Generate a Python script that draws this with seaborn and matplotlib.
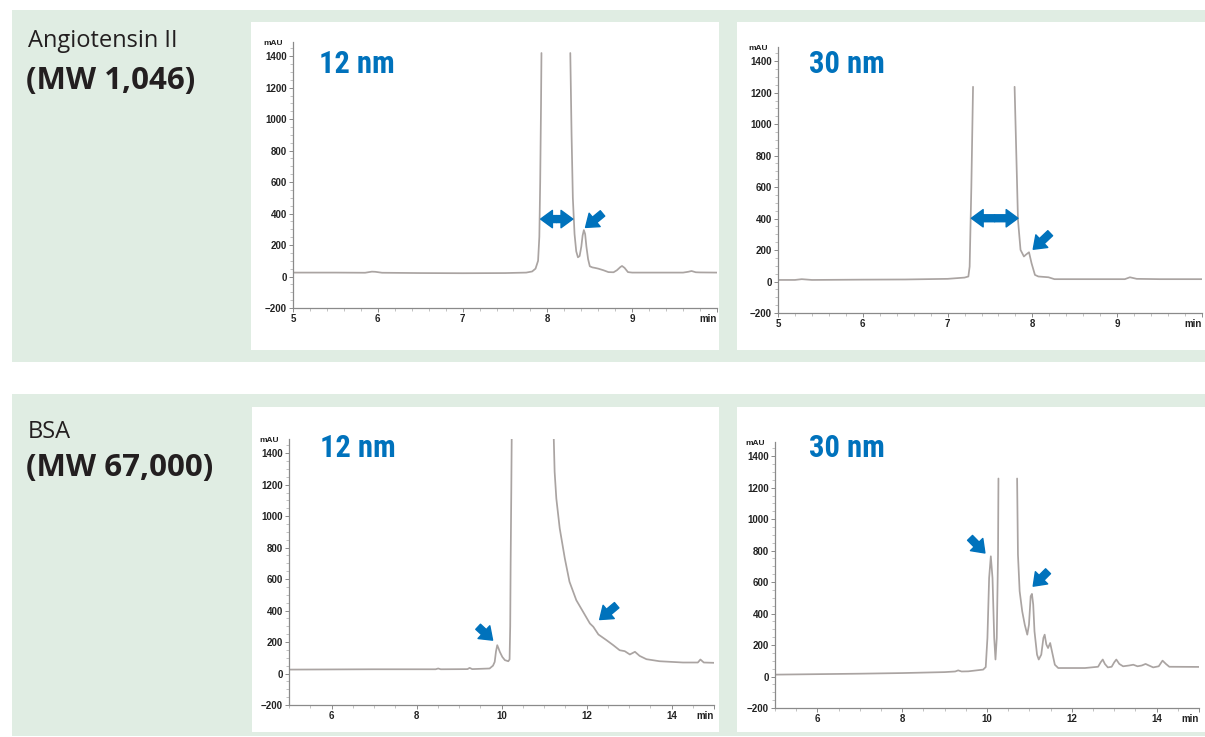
import numpy as np
import pandas as pd
import matplotlib
matplotlib.use("Agg")
import matplotlib.pyplot as plt
import seaborn as sns
from matplotlib.patches import Rectangle
from matplotlib.ticker import MultipleLocator

nan = np.nan

# chromatogram traces (time in min, signal in mAU)
# NaN marks where the peak top is cut off in the original
ang12_t = [5.0, 5.5, 5.85, 5.93, 5.97, 6.05, 6.5, 7.0, 7.5, 7.75, 7.82, 7.86, 7.89, 7.905, 7.915,
           7.925, 7.93, nan, 8.27, 8.285, 8.30, 8.32, 8.34, 8.36, 8.38, 8.40, 8.415, 8.43, 8.445,
           8.46, 8.48, 8.50, 8.53, 8.56, 8.60, 8.66, 8.72, 8.78, 8.82, 8.86, 8.88, 8.91, 8.95,
           9.0, 9.3, 9.6, 9.66, 9.70, 9.75, 9.8, 10.0]
ang12_v = [25, 25, 24, 31, 30, 24, 22, 21, 22, 25, 32, 50, 100, 253, 600,
           1100, 1420, nan, 1420, 900, 500, 270, 160, 122, 130, 190, 260, 295, 270,
           190, 110, 65, 58, 55, 50, 40, 28, 27, 40, 60, 67, 55, 28,
           25, 25, 25, 30, 35, 27, 26, 25]

ang30_t = [5.0, 5.2, 5.28, 5.4, 6.0, 6.5, 7.0, 7.2, 7.245, 7.26, 7.28, 7.30, nan,
           7.79, 7.81, 7.83, 7.86, 7.90, 7.92, 7.96, 7.99, 8.03, 8.07, 8.19, 8.26, 8.5,
           9.0, 9.09, 9.15, 9.23, 9.5, 10.0]
ang30_v = [10, 10, 15, 10, 12, 13, 17, 25, 32, 95, 600, 1237, nan,
           1237, 814, 391, 201, 159, 169, 186, 116, 42, 32, 27, 15, 15,
           15, 15, 27, 17, 15, 15]

bsa12_t = [5.0, 6.0, 7.0, 8.0, 8.45, 8.51, 8.57, 9.2, 9.25, 9.31, 9.72, 9.80, 9.84, 9.87, 9.90,
           9.93, 9.96, 10.02, 10.08, 10.16, 10.19, 10.205, 10.215, 10.23, 10.24, nan,
           11.23, 11.25, 11.29, 11.37, 11.49, 11.60, 11.76, 11.92, 12.08, 12.16, 12.28, 12.47,
           12.63, 12.78, 12.90, 13.02, 13.14, 13.25, 13.41, 13.72, 14.27, 14.62, 14.68, 14.76,
           15.0]
bsa12_v = [25, 26, 27, 27, 27, 32, 27, 28, 36, 28, 32, 50, 74, 140, 180,
           160, 138, 105, 85, 78, 90, 300, 700, 1150, 1490, nan,
           1490, 1282, 1112, 922, 731, 583, 466, 392, 318, 297, 248, 212,
           180, 148, 142, 121, 138, 112, 91, 78, 70, 70, 89, 70,
           68]

bsa30_t = [5.0, 6.0, 7.0, 8.0, 9.0, 9.25, 9.32, 9.40, 9.56, 9.91, 9.97, 10.01, 10.05, 10.09,
           10.13, 10.17, 10.20, 10.23, 10.26, 10.27, nan, 10.71, 10.73, 10.77, 10.83, 10.89,
           10.95, 10.99, 11.03, 11.06, 11.09, 11.12, 11.18, 11.22, 11.28, 11.33, 11.36, 11.40,
           11.44, 11.49, 11.54, 11.60, 11.68, 12.31, 12.62, 12.68, 12.73, 12.78, 12.85, 12.94,
           13.0, 13.05, 13.12, 13.21, 13.35, 13.45, 13.55, 13.65, 13.74, 13.82, 13.92, 14.05,
           14.14, 14.22, 14.30, 15.0]
bsa30_v = [12, 15, 18, 22, 28, 32, 39, 32, 33, 44, 60, 245, 626, 764,
           626, 245, 108, 245, 775, 1258, nan, 1258, 775, 542, 415, 330,
           266, 330, 510, 525, 457, 287, 139, 108, 139, 245, 266, 203,
           181, 213, 150, 75, 54, 54, 62, 90, 108, 80, 58, 62,
           90, 108, 80, 65, 70, 75, 65, 70, 80, 70, 58, 65,
           101, 80, 62, 61]

y_ticks = [-200, 0, 200, 400, 600, 800, 1000, 1200, 1400]
top_xticks = [5, 6, 7, 8, 9, 10]
top_xlabels = ["5", "6", "7", "8", "9", "min"]
bot_xticks = [6, 8, 10, 12, 14, 15]
bot_xlabels = ["6", "8", "10", "12", "14", "min"]

# arrows: (tail, head) in data units; double arrows: (x_left, x_right, y)
ang12_arrows = [((8.65, 401), (8.45, 312))]
ang12_double = (7.92, 8.30, 365)
ang30_arrows = [((8.21, 307), (8.01, 205))]
ang30_double = (7.28, 7.83, 402)
bsa12_arrows = [((9.45, 297), (9.79, 212)), ((12.71, 434), (12.31, 343))]
bsa30_arrows = [((9.60, 881), (9.95, 785)), ((11.44, 669), (11.09, 574))]

BLUE = "#0072bc"
GREEN = "#e0ede3"
LINE = "#aaa4a2"

sns.set_style("white")
plt.rcParams["font.family"] = ["Open Sans", "DejaVu Sans"]

W, H = 1205, 737
fig = plt.figure(figsize=(W / 100, H / 100), dpi=100)


def px_rect(x0, y0, x1, y1):
    return [x0 / W, 1 - y1 / H, (x1 - x0) / W, (y1 - y0) / H]


def px_pt(x, y):
    return x / W, 1 - y / H


# background panels
for x0, y0, x1, y1, c in [(12, 10, 1205, 362, GREEN), (251, 22, 719, 350, "white"),
                          (737, 22, 1205, 350, "white"), (12, 394, 1205, 736, GREEN),
                          (252, 407, 719, 732, "white"), (737, 407, 1205, 732, "white")]:
    r = px_rect(x0, y0, x1, y1)
    fig.patches.append(Rectangle((r[0], r[1]), r[2], r[3], transform=fig.transFigure,
                                 facecolor=c, edgecolor="none", zorder=-5))


def draw_trace(ax, t, v):
    df = pd.DataFrame({"t": t, "v": v})
    df["seg"] = df["v"].isna().cumsum()
    df = df.dropna()
    sns.lineplot(data=df, x="t", y="v", units="seg", estimator=None, sort=False,
                 color=LINE, lw=1.25, ax=ax, legend=False)


def arrow(ax, tail, head):
    ax.annotate("", xy=head, xytext=tail,
                arrowprops=dict(arrowstyle="simple,head_length=0.85,head_width=1.25,tail_width=0.5",
                                mutation_scale=10, color=BLUE, shrinkA=0, shrinkB=0))


def panel(rect, t, v, xlim, xticks, xlabels, minor, title, title_xy, arrows, double=None):
    ax = fig.add_axes(px_rect(*rect), zorder=2)
    ax.patch.set_visible(False)
    draw_trace(ax, t, v)
    ax.set_xlim(xlim)
    ax.set_ylim(-200, 1490)
    ax.set_yticks(y_ticks)
    ax.set_xticks(xticks, xlabels)
    ax.yaxis.set_minor_locator(MultipleLocator(50))
    ax.xaxis.set_minor_locator(MultipleLocator(minor))
    ax.set_xlabel("")
    ax.set_ylabel("")
    for s in ["top", "right"]:
        ax.spines[s].set_visible(False)
    for s in ["left", "bottom"]:
        ax.spines[s].set_color("#8a8a8a")
        ax.spines[s].set_linewidth(0.9)
    ax.tick_params(which="major", length=3, width=0.7, color="#8a8a8a", pad=1.5,
                   labelsize=7, labelcolor="#222222", left=True, bottom=True)
    ax.tick_params(which="minor", length=2, width=0.5, color="#aaaaaa", left=True, bottom=True)
    for lab in ax.get_xticklabels() + ax.get_yticklabels():
        lab.set_fontweight("bold")
        lab.set_family(["Liberation Sans", "DejaVu Sans"])
    # "min" unit label is right-aligned to the end of the time axis
    ax.get_xticklabels()[-1].set_horizontalalignment("right")
    ax.text(-0.025, 1478, "mAU", transform=ax.get_yaxis_transform(), ha="right", va="center",
            fontsize=6, fontweight="bold", color="#222222", family=["Liberation Sans", "DejaVu Sans"])
    fig.text(*px_pt(*title_xy), title, color=BLUE, fontsize=22, fontweight="bold",
             va="baseline", ha="left",
             family=["Liberation Sans Narrow", "Roboto Condensed", "Roboto", "DejaVu Sans"])
    for tail, head in arrows:
        arrow(ax, tail, head)
    if double is not None:
        x0, x1, y = double
        xm = (x0 + x1) / 2
        arrow(ax, (xm, y), (x0, y))
        arrow(ax, (xm, y), (x1, y))
    return ax


panel((293, 42, 717, 308), ang12_t, ang12_v, (5, 10), top_xticks, top_xlabels, 0.2,
      "12 nm", (319, 73), ang12_arrows, ang12_double)
panel((778, 47, 1202, 313), ang30_t, ang30_v, (5, 10), top_xticks, top_xlabels, 0.2,
      "30 nm", (809, 73), ang30_arrows, ang30_double)
panel((289, 439, 714, 705), bsa12_t, bsa12_v, (5, 15), bot_xticks, bot_xlabels, 0.5,
      "12 nm", (320, 457), bsa12_arrows)
panel((775, 442, 1199, 708), bsa30_t, bsa30_v, (5, 15), bot_xticks, bot_xlabels, 0.5,
      "30 nm", (809, 457), bsa30_arrows)

# sample labels on the left
fig.text(*px_pt(28, 47), "Angiotensin II", fontsize=17, color="#231f20", va="baseline")
fig.text(*px_pt(26, 89), "(MW 1,046)", fontsize=22.5, fontweight="bold", color="#231f20", va="baseline")
fig.text(*px_pt(28, 438), "BSA", fontsize=17, color="#231f20", va="baseline")
fig.text(*px_pt(26, 476), "(MW 67,000)", fontsize=22.5, fontweight="bold", color="#231f20", va="baseline")

fig.savefig("out.png", dpi=100)
